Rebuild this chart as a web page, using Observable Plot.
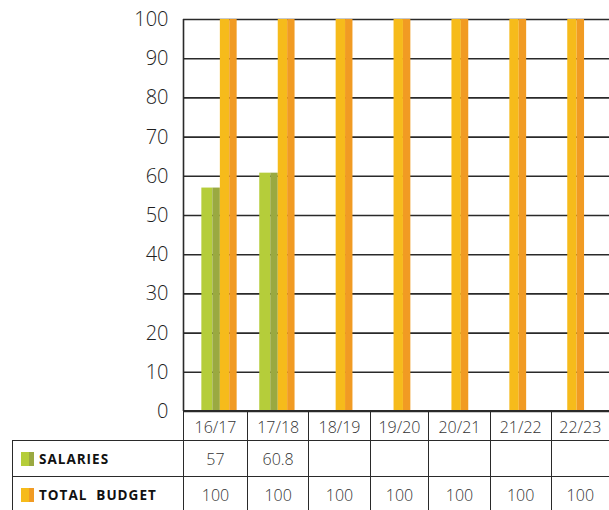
<!DOCTYPE html>
<html>
<head>
<meta charset="utf-8">
<script src="https://cdn.jsdelivr.net/npm/d3@7"></script>
<script src="https://cdn.jsdelivr.net/npm/@observablehq/plot@0.6"></script>
<style>
  html, body { margin: 0; padding: 0; background: #fff; overflow: hidden; }
  #wrap { position: relative; width: 609px; height: 510px; overflow: hidden; font-family: "Open Sans", sans-serif; }
  #chart svg { display: block; }
  #tbl { position: absolute; left: 12px; top: 410px; border-collapse: collapse; table-layout: fixed; color: #333; }
  #tbl td { border: 1.6px solid #2a2a2a; padding: 0; text-align: center; font-size: 16px; font-weight: 300; }
  #tbl tr.head td { height: 26px; font-size: 16px; padding-top: 3px; vertical-align: middle; }
  #tbl tr.row td { height: 35px; }
  #tbl td.name { text-align: left; padding-left: 8px; font-weight: 700; font-size: 13.5px; letter-spacing: 1px; color: #111; white-space: pre; }
  #tbl td.blank { border-top: none; border-left: none; }
  .sw { display: inline-block; width: 13px; height: 14px; vertical-align: -2px; margin-right: 5px; }
</style>
</head>
<body>
<div id="wrap">
  <div id="chart"></div>
  <table id="tbl"></table>
</div>
<script>
// ---- data ----
const categories = ["16/17", "17/18", "18/19", "19/20", "20/21", "21/22", "22/23"];
const salaries = [57, 60.8, null, null, null, null, null];
const totalBudget = [100, 100, 100, 100, 100, 100, 100];
const seriesNames = ["SALARIES", "TOTAL  BUDGET"];
const yTicks = [0, 10, 20, 30, 40, 50, 60, 70, 80, 90, 100];

// ---- styles ----
const GREEN_L = "#b5cd3a", GREEN_D = "#9aa941";
const ORANGE_L = "#f6bb1b", ORANGE_D = "#f19b23";
const LINE = "#2a2a2a";

const salData = categories.map((c, i) => ({cat: c, value: salaries[i]})).filter(d => d.value != null);
const budData = categories.map((c, i) => ({cat: c, value: totalBudget[i]}));

const xStart = 189.85, step = 57.9;
const xRange = [xStart, xStart + step * categories.length];
const axisDx = 183 - (xStart + step / 2);

const chart = Plot.plot({
  width: 609,
  height: 432,
  marginLeft: 183,
  marginRight: 0,
  marginTop: 19,
  marginBottom: 21,
  style: {fontFamily: "'Open Sans', sans-serif", fontSize: "20px", color: "#1e1e1e", background: "transparent"},
  x: {domain: categories, range: xRange, padding: 0, round: false, axis: null},
  y: {domain: [0, 100], ticks: yTicks, tickSize: 0, tickPadding: 15, label: null},
  marks: [
    Plot.ruleY(yTicks, {stroke: LINE, strokeWidth: 1.6}),
    Plot.barY(salData, {x: "cat", y: "value", fill: GREEN_L, insetLeft: 11.5, insetRight: step - 22.5}),
    Plot.barY(salData, {x: "cat", y: "value", fill: GREEN_D, insetLeft: 22.5, insetRight: step - 30}),
    Plot.barY(budData, {x: "cat", y: "value", fill: ORANGE_L, insetLeft: 30, insetRight: step - 39.4}),
    Plot.barY(budData, {x: "cat", y: "value", fill: ORANGE_D, insetLeft: 39.4, insetRight: step - 46.8}),
    Plot.ruleX([categories[0]], {x: d => d, dx: axisDx, stroke: LINE, strokeWidth: 1.6})
  ]
});
chart.querySelectorAll("text").forEach(t => t.setAttribute("font-weight", "300"));
document.getElementById("chart").appendChild(chart);

// ---- data table ----
const colWidths = [171, 64, 61.3, 61.4, 58.6, 61.4, 61, 58.3];
const tbl = document.getElementById("tbl");
const cg = document.createElement("colgroup");
colWidths.forEach(w => { const c = document.createElement("col"); c.style.width = w + "px"; cg.appendChild(c); });
tbl.appendChild(cg);
tbl.style.width = d3.sum(colWidths) + "px";

const head = document.createElement("tr");
head.className = "head";
const blank = document.createElement("td");
blank.className = "blank";
head.appendChild(blank);
categories.forEach(c => { const td = document.createElement("td"); td.textContent = c; head.appendChild(td); });
tbl.appendChild(head);

const rows = [
  {name: seriesNames[0], values: salaries, light: GREEN_L, dark: GREEN_D},
  {name: seriesNames[1], values: totalBudget, light: ORANGE_L, dark: ORANGE_D}
];
rows.forEach(r => {
  const tr = document.createElement("tr");
  tr.className = "row";
  const nm = document.createElement("td");
  nm.className = "name";
  const sw = document.createElement("span");
  sw.className = "sw";
  sw.style.background = `linear-gradient(to right, ${r.light} 58%, ${r.dark} 58%)`;
  nm.appendChild(sw);
  nm.appendChild(document.createTextNode(r.name));
  tr.appendChild(nm);
  r.values.forEach(v => { const td = document.createElement("td"); td.textContent = v == null ? "" : String(v); tr.appendChild(td); });
  tbl.appendChild(tr);
});
</script>
</body>
</html>
